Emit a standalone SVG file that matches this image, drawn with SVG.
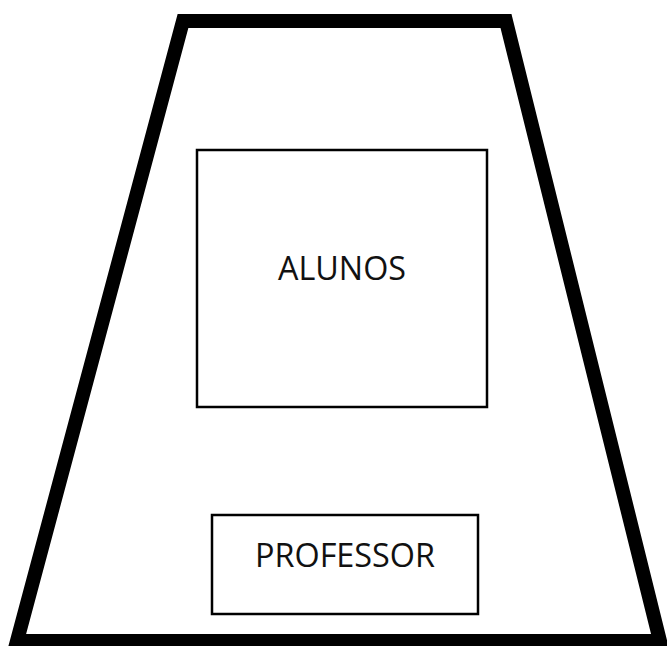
<svg xmlns="http://www.w3.org/2000/svg" width="667" height="646" viewBox="0 0 667 646">
<style>
.box{fill:#fff;stroke:#000;stroke-width:2.5}
.lbl{font-family:"Open Sans","Liberation Sans",sans-serif;font-size:32px;fill:#111;text-anchor:middle}
</style>
<rect width="667" height="646" fill="#fff"/>
<g id="room">
<polygon points="183,21 506,21 660,641 17,641" fill="#fff" stroke="#000" stroke-width="14" stroke-linejoin="miter"/>
</g>
<g id="alunos">
<rect class="box" x="197" y="150" width="290" height="257"/>
<text class="lbl" x="342" y="280" textLength="128" lengthAdjust="spacingAndGlyphs">ALUNOS</text>
</g>
<g id="professor">
<rect class="box" x="212" y="515" width="266" height="99"/>
<text class="lbl" x="345" y="567" textLength="180" lengthAdjust="spacingAndGlyphs">PROFESSOR</text>
</g>
<g id="connectors"/>
</svg>
